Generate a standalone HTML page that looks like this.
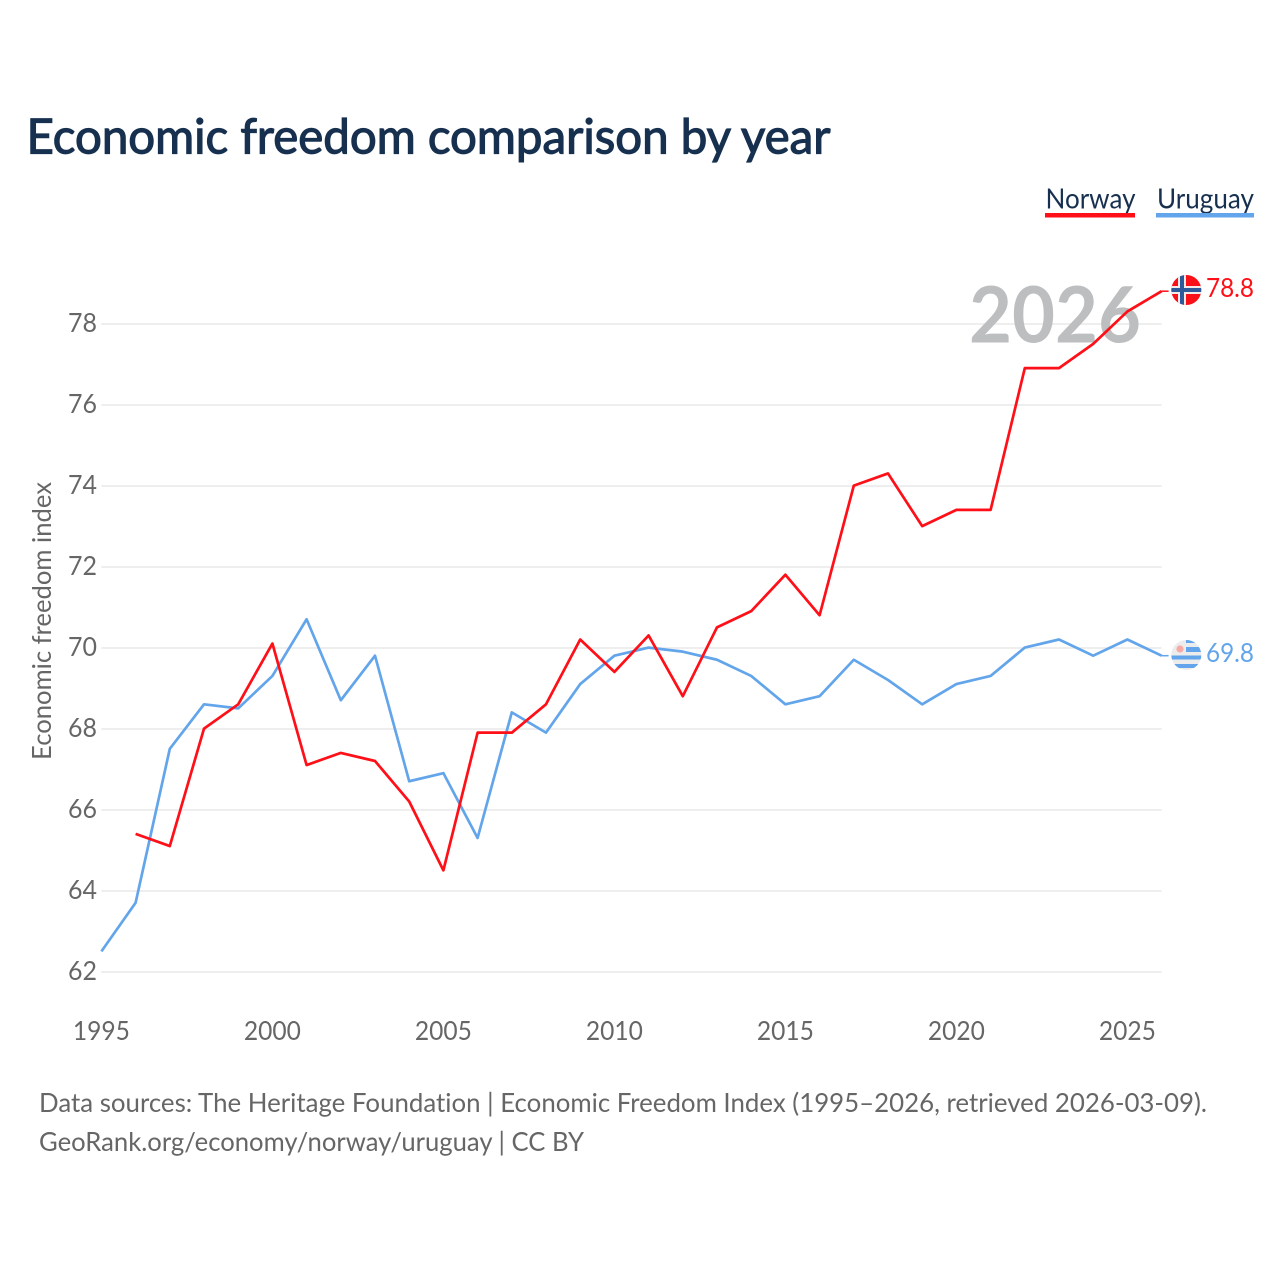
<!DOCTYPE html>
<html lang="en">
<head>
<meta charset="utf-8">
<title>Economic freedom comparison by year</title>
<style>
html,body{margin:0;padding:0;background:#fff;}
svg{display:block;}
text{font-family:"Lato","Carlito","Liberation Sans",sans-serif;font-variant-ligatures:none;}
</style>
</head>
<body>
<svg id="chart" xmlns="http://www.w3.org/2000/svg" width="1280" height="1280" viewBox="0 0 1280 1280">
  <defs>
    <clipPath id="flag-clip-no"><circle cx="1186.3" cy="290" r="15"/></clipPath>
    <clipPath id="flag-clip-uy"><circle cx="1186.3" cy="655" r="15"/></clipPath>
  </defs>
  <rect width="1280" height="1280" fill="#ffffff"/>
  <text x="26.5" y="153.5" font-size="48" fill="#17304f" stroke="#17304f" stroke-width="1.2" textLength="804" lengthAdjust="spacingAndGlyphs">Economic freedom comparison by year</text>

  <g>
    <g>
      <text x="1045.5" y="208.5" font-size="28" fill="#17304f" textLength="90" lengthAdjust="spacingAndGlyphs">Norway</text>
      <rect x="1045" y="213" width="90" height="4.5" fill="#ff0f17"/>
    </g>
    <g>
      <text x="1157" y="208.5" font-size="28" fill="#17304f" textLength="97" lengthAdjust="spacingAndGlyphs">Uruguay</text>
      <rect x="1156" y="213" width="98" height="4.5" fill="#63a5ea"/>
    </g>
  </g>

  <g id="grid"></g>
  <g id="y-ticks"></g>
  <g id="x-ticks"></g>
  <text transform="translate(51,621) rotate(-90)" text-anchor="middle" font-size="26" fill="#666666" textLength="278" lengthAdjust="spacingAndGlyphs">Economic freedom index</text>
  <text x="969" y="342.5" font-size="78" font-weight="700" fill="#bcbec0" textLength="172" lengthAdjust="spacingAndGlyphs">2026</text>
  <g id="series" transform="translate(0,-0.4)"></g>

  <g clip-path="url(#flag-clip-no)">
    <rect x="1171" y="275" width="31" height="30" fill="#fb1018"/>
    <rect x="1178" y="275" width="8" height="30" fill="#f3e9e9"/>
    <rect x="1171" y="286" width="31" height="8" fill="#f3e9e9"/>
    <rect x="1180" y="275" width="4" height="30" fill="#2f5a9a"/>
    <rect x="1171" y="288" width="31" height="4" fill="#2f5a9a"/>
  </g>
  <g clip-path="url(#flag-clip-uy)">
    <rect x="1171" y="640" width="31" height="30" fill="#ececec"/>
    <rect x="1186" y="640" width="16" height="3" fill="#63a5ea"/>
    <rect x="1186" y="647" width="16" height="5" fill="#63a5ea"/>
    <rect x="1171" y="655.5" width="31" height="4" fill="#63a5ea"/>
    <rect x="1171" y="664" width="31" height="4" fill="#63a5ea"/>
    <circle cx="1180" cy="649" r="3.6" fill="#f7a9a5"/>
  </g>

  <text x="1206" y="297" font-size="26" fill="#ff0f17" textLength="48" lengthAdjust="spacingAndGlyphs">78.8</text>
  <text x="1206" y="662" font-size="26" fill="#63a5ea" textLength="48" lengthAdjust="spacingAndGlyphs">69.8</text>

  <text x="39" y="1112" font-size="26.5" fill="#666666" textLength="1168" lengthAdjust="spacingAndGlyphs">Data sources: The Heritage Foundation | Economic Freedom Index (1995–2026, retrieved 2026-03-09).</text>
  <text x="39" y="1151" font-size="26.5" fill="#666666" textLength="545" lengthAdjust="spacingAndGlyphs">GeoRank.org/economy/norway/uruguay | CC BY</text>
</svg>
<script>
const years = [1995,1996,1997,1998,1999,2000,2001,2002,2003,2004,2005,2006,2007,2008,2009,2010,2011,2012,2013,2014,2015,2016,2017,2018,2019,2020,2021,2022,2023,2024,2025,2026];
const norwayValues = [null,65.4,65.1,68.0,68.6,70.1,67.1,67.4,67.2,66.2,64.5,67.9,67.9,68.6,70.2,69.4,70.3,68.8,70.5,70.9,71.8,70.8,74.0,74.3,73.0,73.4,73.4,76.9,76.9,77.5,78.3,78.8];
const uruguayValues = [62.5,63.7,67.5,68.6,68.5,69.3,70.7,68.7,69.8,66.7,66.9,65.3,68.4,67.9,69.1,69.8,70.0,69.9,69.7,69.3,68.6,68.8,69.7,69.2,68.6,69.1,69.3,70.0,70.2,69.8,70.2,69.8];
const yTickValues = [62,64,66,68,70,72,74,76,78];
const xTickValues = [1995,2000,2005,2010,2015,2020,2025];

const NS = 'http://www.w3.org/2000/svg';
const plotLeft = 101.4, plotRight = 1161.6, y62 = 972, y78 = 324;
function xScale(year) {
  return plotLeft + (year - years[0]) * (plotRight - plotLeft) / (years[years.length - 1] - years[0]);
}
function yScale(value) {
  return y62 + (value - 62) * (y78 - y62) / (78 - 62);
}
function make(tag, attrs, parent, text) {
  const el = document.createElementNS(NS, tag);
  Object.keys(attrs).forEach(function (k) { el.setAttribute(k, attrs[k]); });
  if (text !== undefined) el.textContent = text;
  parent.appendChild(el);
  return el;
}
const grid = document.getElementById('grid');
const yTicks = document.getElementById('y-ticks');
const xTicks = document.getElementById('x-ticks');
const seriesGroup = document.getElementById('series');

yTickValues.forEach(function (v) {
  const line = make('line', {x1: plotLeft, x2: plotRight, y1: yScale(v), y2: yScale(v), stroke: '#eeeeee', 'stroke-width': 2}, grid);
  
  
  const label = make('text', {x: 97, y: yScale(v) + 8, 'text-anchor': 'end', 'font-size': 26, fill: '#666666', textLength: 29, lengthAdjust: 'spacingAndGlyphs'}, yTicks, String(v));
  
  
});
xTickValues.forEach(function (v) {
  const label = make('text', {x: xScale(v), y: 1040, 'text-anchor': 'middle', 'font-size': 26, fill: '#666666', textLength: 57, lengthAdjust: 'spacingAndGlyphs'}, xTicks, String(v));
  
  
});
function drawSeries(values, color) {
  let d = '';
  values.forEach(function (v, i) {
    if (v === null) return;
    d += (d ? 'L' : 'M') + xScale(years[i]).toFixed(2) + ' ' + yScale(v).toFixed(2);
  });
  const lastX = xScale(years[years.length - 1]);
  const lastY = yScale(values[values.length - 1]);
  const leader = make('line', {x1: lastX, x2: lastX + 7, y1: lastY, y2: lastY, stroke: color, 'stroke-width': 1.5}, seriesGroup);
  
  
  return make('path', {d: d, fill: 'none', stroke: color, 'stroke-width': 2.7, 'stroke-linejoin': 'round'}, seriesGroup);
}
const uruguayLine = drawSeries(uruguayValues, '#63a5ea');


const norwayLine = drawSeries(norwayValues, '#ff0f17');


</script>
</body>
</html>
